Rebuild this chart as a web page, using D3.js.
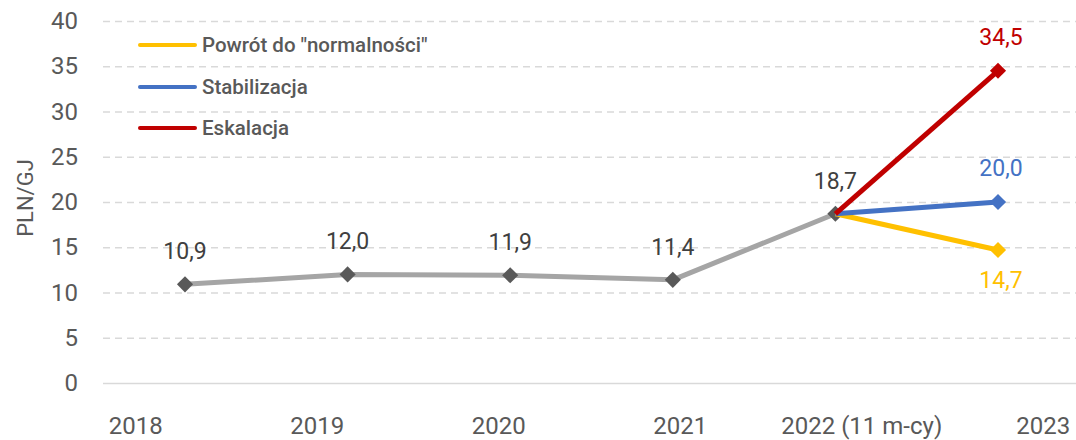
<!DOCTYPE html>
<html>
<head>
<meta charset="utf-8">
<script src="https://cdn.jsdelivr.net/npm/d3@7"></script>
<style>
  html, body { margin: 0; padding: 0; background: #fff; }
  svg text { font-family: Roboto, "Noto Sans", sans-serif; }
</style>
</head>
<body>
<div id="chart"></div>
<script>
// categories and values
const years = ['2018', '2019', '2020', '2021', '2022', '2023']
const yearLabels = ['2018', '2019', '2020', '2021', '2022 (11 m-cy)', '2023']
const history = [10.9, 12.0, 11.9, 11.4, 18.7]
const scenarioNames = ['Powrót do "normalności"', 'Stabilizacja', 'Eskalacja']
const scenarioColors = ['#FFC000', '#4472C4', '#C00000']
const scenarioValues = [14.7, 20.0, 34.5]
const yTicks = [0, 5, 10, 15, 20, 25, 30, 35, 40]

const width = 1076
const height = 440
const plot = { left: 103, right: 1076, top: 21, bottom: 383 }

const svg = d3.select('#chart').append('svg')
  .attr('width', width)
  .attr('height', height)

const y = d3.scaleLinear().domain([0, 40]).range([plot.bottom, plot.top])
const x = d3.scalePoint().domain(years).range([185, 998])
// the category labels sit on their own band, shifted from the points
const xLab = d3.scaleBand().domain(yearLabels).range([45, 1134])

const fmt = v => d3.format('.1f')(v).replace('.', ',')

// grid lines
const grid = svg.append('g')
  .attr('transform', `translate(${plot.left},0)`)
  .call(d3.axisRight(y).tickValues(yTicks).tickSize(plot.right - plot.left).tickFormat(''))
grid.select('.domain').remove()
grid.selectAll('.tick line')
  .attr('stroke', '#d9d9d9')
  .attr('stroke-width', 1.5)
  .attr('stroke-dasharray', d => d === 0 ? null : '7,5')

// y axis labels
const gY = svg.append('g')
  .attr('transform', 'translate(78,0)')
  .call(d3.axisLeft(y).tickValues(yTicks).tickSize(0).tickPadding(0))
gY.select('.domain').remove()
gY.selectAll('.tick text')
  .attr('font-size', 24)
  .attr('fill', '#595959')
  .attr('font-family', 'Roboto')

svg.append('text')
  .attr('transform', 'translate(33,198) rotate(-90)')
  .attr('text-anchor', 'middle')
  .attr('font-size', 22)
  .attr('fill', '#595959')
  .text('PLN/GJ')

// x axis labels
const gX = svg.append('g')
  .attr('transform', 'translate(0,417)')
  .call(d3.axisBottom(xLab).tickSize(0).tickPadding(0))
gX.select('.domain').remove()
gX.selectAll('.tick text')
  .attr('font-size', 24)
  .attr('fill', '#595959')
  .attr('font-family', 'Roboto')

// historical line
const line = d3.line()
  .x(d => x(d.year))
  .y(d => y(d.value))

const histData = history.map((v, i) => ({ year: years[i], value: v }))

svg.append('path')
  .datum(histData)
  .attr('d', line)
  .attr('fill', 'none')
  .attr('stroke', '#A5A5A5')
  .attr('stroke-width', 5)
  .attr('stroke-linejoin', 'round')

const diamond = d3.symbol().type(d3.symbolSquare).size(130)

svg.selectAll('.histMarker')
  .data(histData)
  .enter()
  .append('path')
  .attr('class', 'histMarker')
  .attr('d', diamond)
  .attr('transform', d => `translate(${x(d.year)},${y(d.value)}) rotate(45)`)
  .attr('fill', '#595959')

svg.selectAll('.histLabel')
  .data(histData)
  .enter()
  .append('text')
  .attr('class', 'histLabel')
  .attr('x', d => x(d.year))
  .attr('y', d => y(d.value) - 25)
  .attr('text-anchor', 'middle')
  .attr('font-size', 23)
  .attr('fill', '#404040')
  .text(d => fmt(d.value))

// scenarios 2022 -> 2023
const last = histData[histData.length - 1]
const scen = scenarioNames.map((name, i) => ({
  name,
  color: scenarioColors[i],
  value: scenarioValues[i],
  points: [last, { year: years[5], value: scenarioValues[i] }]
}))

svg.selectAll('.scenLine')
  .data(scen)
  .enter()
  .append('path')
  .attr('class', 'scenLine')
  .attr('d', d => line(d.points))
  .attr('fill', 'none')
  .attr('stroke', d => d.color)
  .attr('stroke-width', 5)

svg.selectAll('.scenMarker')
  .data(scen)
  .enter()
  .append('path')
  .attr('class', 'scenMarker')
  .attr('d', diamond)
  .attr('transform', d => `translate(${x(years[5])},${y(d.value)}) rotate(45)`)
  .attr('fill', d => d.color)

svg.selectAll('.scenLabel')
  .data(scen)
  .enter()
  .append('text')
  .attr('class', 'scenLabel')
  .attr('x', d => x(years[5]) + 3)
  .attr('y', d => d.value < last.value ? y(d.value) + 38 : y(d.value) - 26)
  .attr('text-anchor', 'middle')
  .attr('font-size', 23)
  .attr('fill', d => d.color)
  .text(d => fmt(d.value))

// legend
const gLegend = svg.append('g')
const legendY = [45, 87, 128]

gLegend.selectAll('line')
  .data(scen)
  .enter()
  .append('line')
  .attr('x1', 140)
  .attr('x2', 195)
  .attr('y1', (d, i) => legendY[i])
  .attr('y2', (d, i) => legendY[i])
  .attr('stroke', d => d.color)
  .attr('stroke-width', 4)
  .attr('stroke-linecap', 'round')

gLegend.selectAll('text')
  .data(scen)
  .enter()
  .append('text')
  .attr('x', 202)
  .attr('y', (d, i) => legendY[i] + 7)
  .attr('font-size', 20.5)
  .attr('font-weight', 500)
  .attr('fill', '#595959')
  .text(d => d.name)
</script>
</body>
</html>
